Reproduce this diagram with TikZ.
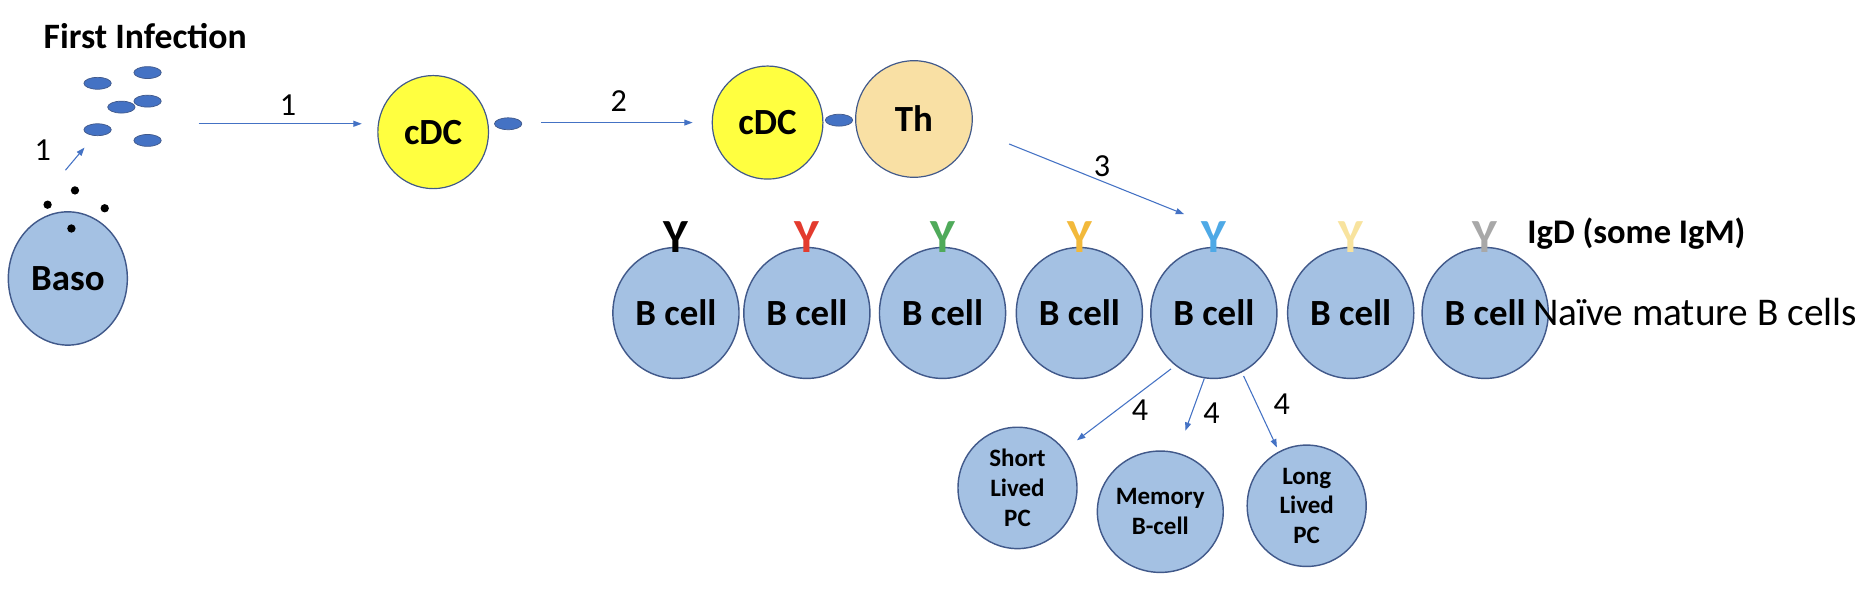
\documentclass[tikz,border=0pt]{standalone}
\usepackage{fontspec}
\setmainfont{Carlito}
\usetikzlibrary{arrows.meta,shapes.geometric}
\definecolor{cellfill}{HTML}{A4C1E3}
\definecolor{celldraw}{HTML}{41598A}
\definecolor{arr}{HTML}{4472C4}
\definecolor{dcfill}{HTML}{FFFF40}
\definecolor{thfill}{HTML}{F9E0A4}
\definecolor{cRed}{HTML}{E33B2E}
\definecolor{cGreen}{HTML}{4FAA5A}
\definecolor{cGold}{HTML}{F2B93B}
\definecolor{cSky}{HTML}{4EA9E6}
\definecolor{cLight}{HTML}{F8E39E}
\definecolor{cGray}{HTML}{A8A8A8}
\tikzset{
  cell/.style={ellipse,draw=celldraw,line width=1.2pt,fill=cellfill,minimum width=106pt,minimum height=110pt,inner sep=0pt,font=\fontsize{31}{33}\selectfont\bfseries},
  small/.style={ellipse,draw=celldraw,line width=1.2pt,fill=cellfill,minimum width=100pt,minimum height=102pt,inner sep=0pt,align=center,font=\fontsize{21}{25}\selectfont\bfseries},
  dc/.style={ellipse,draw=celldraw,line width=1pt,fill=dcfill,minimum width=93pt,minimum height=95pt,inner sep=0pt,font=\fontsize{31}{33}\selectfont\bfseries},
  pat/.style={ellipse,draw=celldraw,line width=0.6pt,fill=arr,minimum width=23pt,minimum height=10pt,inner sep=0pt},
  ar/.style={draw=arr,line width=0.9pt,-{Triangle[length=7pt,width=5pt]}},
  lbl/.style={font=\fontsize{27}{29}\selectfont},
  ab/.style={font=\fontsize{40}{40}\selectfont\bfseries,inner sep=0pt},
  dot/.style={circle,fill=black,minimum size=7pt,inner sep=0pt}
}
\begin{document}
\begin{tikzpicture}[x=1pt,y=-1pt]
\useasboundingbox (0,0) rectangle (1568,505);
\node[font=\fontsize{30}{32}\selectfont\bfseries] (fi) at (122,30) {First Infection};
\node[pat] (p1) at (82,70) {};
\node[pat] (p2) at (124,61) {};
\node[pat] (p3) at (102,90) {};
\node[pat] (p4) at (124,85) {};
\node[pat] (p5) at (82,109) {};
\node[pat] (p6) at (124,118) {};
\node[cell,minimum width=100pt,minimum height=112pt] (baso) at (57,234) {Baso};
\node[dot] (d1) at (63,160) {};
\node[dot] (d2) at (40,172) {};
\node[dot] (d3) at (88,175) {};
\node[dot] (d4) at (60,192) {};
\coordinate (a1s) at (55,143); \coordinate (a1e) at (71,124);
\draw[ar] (a1s) -- (a1e);
\node[lbl] (l1a) at (36,126) {1};
\coordinate (b1s) at (167,104); \coordinate (b1e) at (304,104);
\draw[ar] (b1s) -- (b1e);
\node[lbl] (l1b) at (242,88) {1};
\node[dc] (dc1) at (364,111) {cDC};
\node[pat] (pd1) at (427,104) {};
\coordinate (b2s) at (455,103); \coordinate (b2e) at (582,103);
\draw[ar] (b2s) -- (b2e);
\node[lbl] (l2) at (520,85) {2};
\node[dc] (dc2) at (645,103) {cDC};
\node[dc,fill=thfill,minimum width=98pt,minimum height=98pt] (th) at (768,100) {Th};
\node[pat] (pd2) at (705,101) {};
\coordinate (b3s) at (848,121); \coordinate (b3e) at (995,180);
\draw[ar] (b3s) -- (b3e);
\node[lbl] (l3) at (926,140) {3};
\foreach \i/\x/\c in {1/568/black,2/678/cRed,3/792/cGreen,4/907/cGold,5/1020/cSky,6/1135/cLight,7/1248/cGray}{
  \node[cell] (b\i) at (\x,263) {B cell};
  \node[ab,text=\c] (y\i) at (\x,199) {Y};
}
\node[font=\fontsize{29}{31}\selectfont\bfseries,anchor=west] (igd) at (1280,196) {IgD (some IgM)};
\node[font=\fontsize{33}{35}\selectfont,anchor=east] (naive) at (1564,262) {Naïve mature B cells};
\node[small] (slpc) at (855,410) {Short\\Lived\\PC};
\node[small] (mem) at (975,430) {Memory\\B-cell};
\node[small] (llpc) at (1098,425) {Long\\Lived\\PC};
\coordinate (c1s) at (984,310); \coordinate (c1e) at (905,370);
\coordinate (c2s) at (1012,318); \coordinate (c2e) at (996,362);
\coordinate (c3s) at (1045,316); \coordinate (c3e) at (1073,376);
\draw[ar] (c1s) -- (c1e);
\draw[ar] (c2s) -- (c2e);
\draw[ar] (c3s) -- (c3e);
\node[lbl] (l4a) at (958,345) {4};
\node[lbl] (l4b) at (1018,347) {4};
\node[lbl] (l4c) at (1077,340) {4};
\end{tikzpicture}
\end{document}
